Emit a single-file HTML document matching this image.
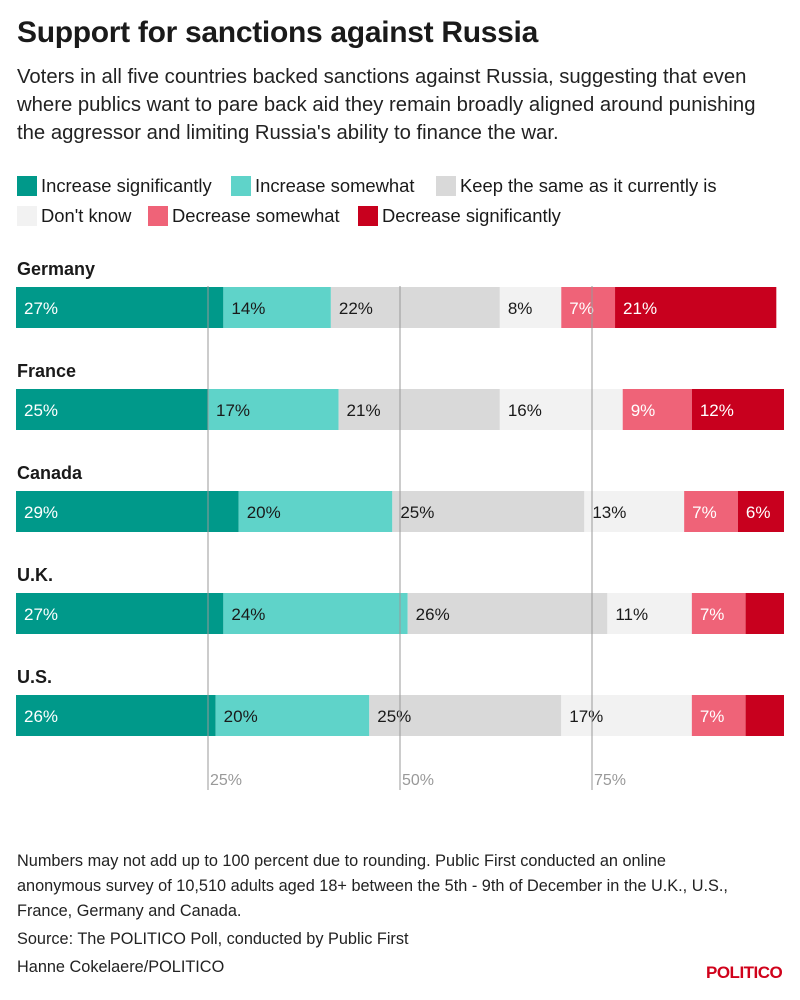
<!DOCTYPE html>
<html><head><meta charset="utf-8"><style>
body{margin:0;width:800px;height:1000px;background:#fff;font-family:"Liberation Sans",sans-serif;color:#1a1a1a;position:relative;overflow:hidden}
.abs{position:absolute}
h1{position:absolute;left:17px;top:16px;margin:0;font-size:30px;font-weight:bold;letter-spacing:-0.3px}
.sub{left:17px;top:63px;width:765px;font-size:20.3px;line-height:28px;color:#222}
.leg{font-size:18.4px;display:flex;align-items:center;position:absolute}
.sw{width:20px;height:20px;margin-right:4px}
.note{left:17px;font-size:16.3px;line-height:25px;color:#222;width:790px;white-space:nowrap}
</style></head><body>
<h1>Support for sanctions against Russia</h1>
<div class="abs sub">Voters in all five countries backed sanctions against Russia, suggesting that even where publics want to pare back aid they remain broadly aligned around punishing the aggressor and limiting Russia's ability to finance the war.</div>
<div id="legend"></div>
<svg id="chart" class="abs" style="left:0;top:250px" width="800" height="560"></svg>
<div class="abs note" style="top:849px">Numbers may not add up to 100 percent due to rounding. Public First conducted an online<br>anonymous survey of 10,510 adults aged 18+ between the 5th - 9th of December in the U.K., U.S.,<br>France, Germany and Canada.</div>
<div class="abs note" style="top:927px">Source: The POLITICO Poll, conducted by Public First</div>
<div class="abs note" style="top:955px">Hanne Cokelaere/POLITICO</div>
<div class="abs" style="left:706px;top:963px;font-size:17px;font-weight:bold;color:#d0021b;letter-spacing:-0.5px">POLITICO</div>
<script>
const categories=["Germany","France","Canada","U.K.","U.S."];
const seriesNames=["Increase significantly","Increase somewhat","Keep the same as it currently is","Don't know","Decrease somewhat","Decrease significantly"];
const incSig=[27,25,29,27,26];
const incSome=[14,17,20,24,20];
const keep=[22,21,25,26,25];
const dontKnow=[8,16,13,11,17];
const decSome=[7,9,7,7,7];
const decSig=[21,12,6,5,5];
const showLabel=[[1,1,1,1,1,1],[1,1,1,1,1,1],[1,1,1,1,1,1],[1,1,1,1,1,0],[1,1,1,1,1,0]];
const ticks=[25,50,75];
const colors=["#00998a","#5fd3c9","#d9d9d9","#f2f2f2","#ef6378","#c8001e"];
const textCol=["#fff","#1a1a1a","#1a1a1a","#1a1a1a","#fff","#fff"];
const series=[incSig,incSome,keep,dontKnow,decSome,decSig];
const NS="http://www.w3.org/2000/svg";
const x=v=>16+v*7.68;
const svg=document.getElementById('chart');
const legPos=[[17,175],[231,175],[436,175],[17,205],[148,205],[358,205]];
seriesNames.forEach((n,i)=>{
 const d=document.createElement('div');d.className='leg';
 d.style.left=legPos[i][0]+'px';d.style.top=legPos[i][1]+'px';
 
 
 d.innerHTML='<div class="sw" style="background:'+colors[i]+'"></div>'+n;
 document.getElementById('legend').appendChild(d);
});
categories.forEach((c,r)=>{
 const y0=r*102;
 const t=document.createElementNS(NS,'text');
 t.setAttribute('x',17);t.setAttribute('y',y0+25);
 t.setAttribute('font-size','18');t.setAttribute('font-weight','bold');t.setAttribute('fill','#1a1a1a');
 t.textContent=c;
 
 
 svg.appendChild(t);
 let acc=0;
 series.forEach((s,i)=>{
  const v=s[r];
  const rc=document.createElementNS(NS,'rect');
  rc.setAttribute('x',x(acc));rc.setAttribute('y',y0+37);
  rc.setAttribute('width',v*7.68);rc.setAttribute('height',41);
  rc.setAttribute('fill',colors[i]);
  
  
  svg.appendChild(rc);
  if(showLabel[r][i]){
   const l=document.createElementNS(NS,'text');
   l.setAttribute('x',x(acc)+8);l.setAttribute('y',y0+64);
   l.setAttribute('font-size','17');l.setAttribute('fill',textCol[i]);
   l.textContent=v+'%';
   
   
   svg.appendChild(l);
  }
  acc+=v;
 });
});
ticks.forEach(tk=>{
 const ln=document.createElementNS(NS,'line');
 ln.setAttribute('x1',x(tk));ln.setAttribute('x2',x(tk));
 ln.setAttribute('y1',36);ln.setAttribute('y2',540);
 ln.setAttribute('stroke','#999');ln.setAttribute('stroke-width','1');
 
 
 svg.appendChild(ln);
 const t=document.createElementNS(NS,'text');
 t.setAttribute('x',x(tk)+2);t.setAttribute('y',535);
 t.setAttribute('font-size','16');t.setAttribute('fill','#999');
 t.textContent=tk+'%';
 
 
 svg.appendChild(t);
});
</script>
</body></html>
